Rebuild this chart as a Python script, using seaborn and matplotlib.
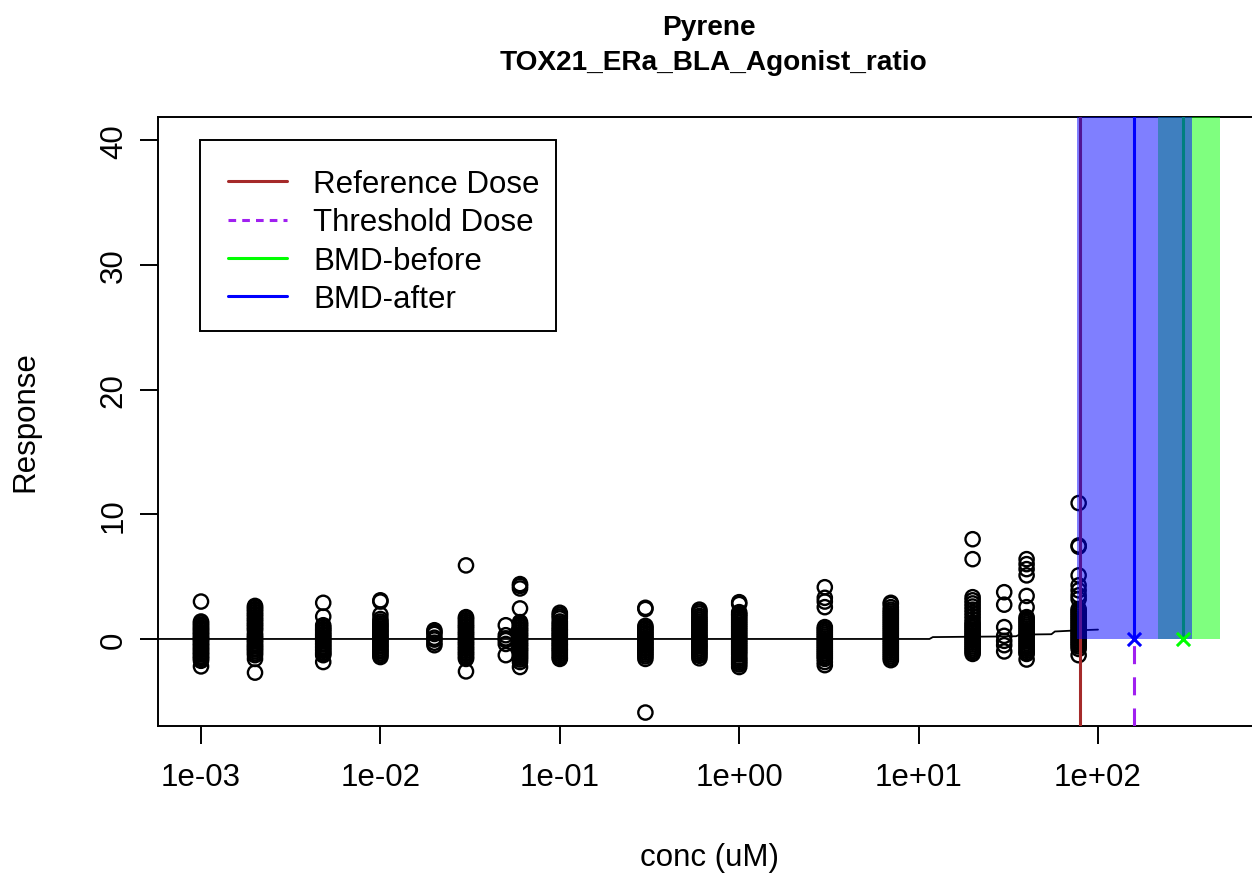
import matplotlib
matplotlib.use("Agg")
import matplotlib.pyplot as plt
import numpy as np
import pandas as pd
import seaborn as sns
from matplotlib.lines import Line2D
from matplotlib.patches import Rectangle

sns.set_theme(style="ticks")
plt.rcParams["font.family"] = ["Liberation Sans", "DejaVu Sans"]
plt.rcParams["text.color"] = "black"
plt.rcParams["axes.labelcolor"] = "black"
plt.rcParams["xtick.color"] = "black"
plt.rcParams["ytick.color"] = "black"

# ---- titles / labels -------------------------------------------------------
chemical = "Pyrene"
assay = "TOX21_ERa_BLA_Agonist_ratio"
x_label = "conc (uM)"
y_label = "Response"

# ---- concentration-response observations (uM, % response) ------------------
conc_levels = [0.001, 0.002, 0.0048, 0.01, 0.02, 0.03, 0.05, 0.06, 0.1,
               0.3, 0.6, 1.0, 3.0, 7.0, 20.0, 30.0, 40.0, 78.0]

resp_c01 = [3.0, 1.4, 1.3, 1.15, 1.05, 0.9, 0.8, 0.7, 0.55, 0.45, 0.35, 0.2,
            0.1, 0.0, -0.1, -0.2, -0.35, -0.45, -0.55, -0.7, -0.8, -0.9,
            -1.05, -1.15, -1.25, -1.4, -1.5, -1.6, -1.75, -2.2]
resp_c02 = [2.65, 2.55, 2.4, 2.3, 2.15, 2.0, 1.9, 1.75, 1.6, 1.5, 1.35, 1.2,
            1.1, 0.95, 0.8, 0.7, 0.45, 0.3, 0.15, 0.05, -0.1, -0.2, -0.35,
            -0.5, -0.6, -0.75, -0.85, -1.0, -1.15, -1.3, -1.6, -2.7]
resp_c03 = [2.9, 1.8, 1.1, 0.95, 0.8, 0.7, 0.55, 0.4, 0.3, 0.15, 0.05, -0.1,
            -0.2, -0.35, -0.45, -0.6, -0.7, -0.85, -0.95, -1.1, -1.2, -1.3,
            -1.85]
resp_c04 = [3.1, 3.0, 1.95, 1.6, 1.4, 1.25, 1.1, 1.0, 0.85, 0.7, 0.6, 0.45,
            0.3, 0.2, 0.05, -0.1, -0.2, -0.35, -0.5, -0.6, -0.75, -0.9, -1.0,
            -1.15, -1.3, -1.45]
resp_c05 = [0.7, 0.55, 0.4, 0.1, -0.05, -0.3, -0.5]
resp_c06 = [5.9, 1.75, 1.65, 1.5, 1.35, 1.2, 1.05, 0.95, 0.8, 0.65, 0.5, 0.4,
            0.25, 0.1, 0.0, -0.15, -0.3, -0.4, -0.55, -0.7, -0.8, -0.95, -1.1,
            -1.2, -1.35, -1.5, -1.6, -2.6]
resp_c07 = [1.1, 0.3, 0.05, -0.1, -0.4, -1.3]
resp_c08 = [4.4, 4.25, 4.05, 2.45, 1.35, 1.2, 1.1, 0.95, 0.8, 0.7, 0.55, 0.4,
            0.3, 0.15, 0.0, -0.1, -0.25, -0.4, -0.5, -0.65, -0.8, -0.9, -1.05,
            -1.2, -1.35, -1.5, -1.65, -1.85, -2.25]
resp_c09 = [2.1, 1.95, 1.8, 1.65, 1.4, 1.25, 1.1, 0.95, 0.8, 0.7, 0.55, 0.4,
            0.3, 0.15, 0.0, -0.1, -0.25, -0.4, -0.5, -0.65, -0.8, -0.9, -1.05,
            -1.2, -1.35, -1.5, -1.6]
resp_c10 = [2.5, 2.4, 1.05, 0.9, 0.8, 0.65, 0.5, 0.4, 0.25, 0.1, 0.0, -0.15,
            -0.3, -0.4, -0.55, -0.7, -0.8, -0.95, -1.1, -1.25, -1.4, -1.6,
            -5.9]
resp_c11 = [2.35, 2.2, 2.05, 1.85, 1.7, 1.55, 1.4, 1.25, 1.1, 0.95, 0.8, 0.65,
            0.5, 0.35, 0.2, 0.1, -0.05, -0.2, -0.35, -0.5, -0.6, -0.75, -0.9,
            -1.05, -1.2, -1.35, -1.55]
resp_c12 = [2.95, 2.8, 2.15, 2.0, 1.9, 1.75, 1.6, 1.45, 1.3, 1.15, 1.0, 0.85,
            0.7, 0.55, 0.4, 0.25, 0.1, -0.05, -0.2, -0.35, -0.5, -0.65, -0.8,
            -0.95, -1.1, -1.25, -1.45, -1.6, -1.75, -1.9, -2.05, -2.25]
resp_c13 = [4.15, 3.3, 3.0, 2.55, 0.95, 0.8, 0.65, 0.5, 0.35, 0.2, 0.05, -0.1,
            -0.25, -0.4, -0.55, -0.7, -0.85, -1.0, -1.15, -1.3, -1.45, -1.6,
            -1.85, -2.1]
resp_c14 = [2.9, 2.8, 2.55, 2.35, 2.2, 2.05, 1.9, 1.75, 1.6, 1.45, 1.3, 1.15,
            1.0, 0.85, 0.7, 0.55, 0.4, 0.25, 0.1, -0.05, -0.2, -0.35, -0.5,
            -0.65, -0.8, -0.95, -1.1, -1.25, -1.4, -1.55, -1.7]
resp_c15 = [8.0, 6.4, 3.35, 3.1, 2.85, 2.6, 2.35, 2.1, 1.85, 1.6, 1.35, 1.2,
            1.05, 0.9, 0.75, 0.6, 0.45, 0.3, 0.15, 0.0, -0.15, -0.3, -0.45,
            -0.6, -0.75, -0.9, -1.05, -1.2]
resp_c16 = [3.75, 2.75, 0.95, 0.25, -0.15, -0.5, -1.0]
resp_c17 = [6.4, 6.0, 5.6, 5.1, 3.45, 2.55, 1.75, 1.6, 1.45, 1.3, 1.15, 1.0,
            0.85, 0.7, 0.55, 0.4, 0.25, 0.1, -0.05, -0.2, -0.35, -0.5, -0.65,
            -0.8, -0.95, -1.1, -1.2, -1.65]
resp_c18 = [10.9, 7.5, 7.4, 5.1, 4.3, 3.9, 3.5, 3.2, 2.4, 2.25, 2.1, 1.95,
            1.8, 1.65, 1.5, 1.35, 1.2, 1.05, 0.9, 0.75, 0.6, 0.45, 0.3, 0.15,
            0.0, -0.15, -0.3, -0.45, -0.6, -0.8, -1.3]

responses = [resp_c01, resp_c02, resp_c03, resp_c04, resp_c05, resp_c06,
             resp_c07, resp_c08, resp_c09, resp_c10, resp_c11, resp_c12,
             resp_c13, resp_c14, resp_c15, resp_c16, resp_c17, resp_c18]

# ---- fitted curve ------------------------------------------------------------
curve_conc = [0.0004, 11.5, 12.0, 20.0, 30.0, 35.0, 36.5, 55.0, 57.5, 80.0, 100.0]
curve_resp = [0.0, 0.0, 0.15, 0.18, 0.2, 0.22, 0.35, 0.38, 0.6, 0.7, 0.75]

# ---- point of departure estimates (uM) --------------------------------------
reference_dose = 79.0
threshold_dose = 159.0
bmd_before, bmdl_before, bmdu_before = 298.0, 216.0, 479.0
bmd_after, bmdl_after, bmdu_after = 159.0, 76.4, 334.0

# ---- axes ticks -------------------------------------------------------------
x_ticks = [1e-3, 1e-2, 1e-1, 1e0, 1e1, 1e2]
x_tick_labels = ["1e-03", "1e-02", "1e-01", "1e+00", "1e+01", "1e+02"]
y_ticks = [0, 10, 20, 30, 40]
y_tick_labels = ["0", "10", "20", "30", "40"]

legend_labels = ["Reference Dose", "Threshold Dose", "BMD-before", "BMD-after"]

# colours
c_ref = "#A52A2A"
c_thr = "#A020F0"
c_before = "#00FF00"
c_after = "#0000FF"

df = pd.DataFrame({
    "conc": np.concatenate([[c] * len(r) for c, r in zip(conc_levels, responses)]),
    "resp": np.concatenate(responses),
})

W, H = 1252, 879
fig = plt.figure(figsize=(W / 100, H / 100), dpi=100)
ax_l, ax_r, ax_t, ax_b = 158, 1260, 118, 727
ax = fig.add_axes([ax_l / W, 1 - ax_b / H, (ax_r - ax_l) / W, (ax_b - ax_t) / H])
ax.set_xscale("log")

y_lo, y_hi = -6.98, 41.86

# observations
sns.scatterplot(data=df, x="conc", y="resp", ax=ax, marker="o", s=105,
                facecolors="none", edgecolor="black", linewidth=1.7,
                legend=False, zorder=3)

# fitted curve
sns.lineplot(x=curve_conc, y=curve_resp, ax=ax, color="black", lw=1.3,
             estimator=None, sort=False, zorder=4)

top = 60
# BMD (before) interval and estimate
ax.fill_between([bmdl_before, bmdu_before], 0, top, color=c_before,
                alpha=0.5, lw=0, zorder=5)
ax.vlines(bmd_before, 0, top, color=c_before, lw=2.2, zorder=5)
# reference and threshold doses
ax.axvline(reference_dose, color=c_ref, lw=2.2, zorder=5)
ax.vlines(threshold_dose, y_lo, 0, color=c_thr, lw=2.2,
          linestyles=(0, (5.9, 4.3)), zorder=5)
# BMD (after) interval and estimate
ax.fill_between([bmdl_after, bmdu_after], 0, top, color=c_after,
                alpha=0.5, lw=0, zorder=6)
ax.vlines(bmd_after, 0, top, color=c_after, lw=2.2, zorder=7)
ax.scatter([bmd_after], [0], marker="x", color=c_after, s=90, lw=2.2, zorder=8)
ax.scatter([bmd_before], [0], marker="x", color=c_before, s=90, lw=2.2, zorder=8)

ax.set_xlim(10 ** -3.2397, 10 ** 2.903)
ax.set_ylim(y_lo, y_hi)
ax.set_xticks(x_ticks)
ax.set_xticklabels(x_tick_labels)
ax.minorticks_off()
ax.set_yticks(y_ticks)
ax.set_yticklabels(y_tick_labels, rotation=90, va="center")
ax.set_xlabel("")
ax.set_ylabel("")
ax.tick_params(axis="both", direction="out", length=13, width=1.4,
               colors="black", labelsize=22.5, left=True, bottom=True)
ax.tick_params(axis="x", pad=13)
ax.tick_params(axis="y", pad=8)
for sp in ax.spines.values():
    sp.set_linewidth(1.4)
    sp.set_color("black")

# legend box
def to_axes(px, py):
    return (px - ax_l) / (ax_r - ax_l), (ax_b - py) / (ax_b - ax_t)

bx0, by0 = to_axes(200, 332)
bx1, by1 = to_axes(556, 141)
ax.add_patch(Rectangle((bx0, by0), bx1 - bx0, by1 - by0, transform=ax.transAxes,
                       facecolor="white", edgecolor="black", lw=1.4,
                       zorder=9))

handles = [Line2D([], [], color=c_ref, lw=2.2),
           Line2D([], [], color=c_thr, lw=2.2, ls=(0, (2.5, 2))),
           Line2D([], [], color=c_before, lw=2.2),
           Line2D([], [], color=c_after, lw=2.2)]
leg = ax.legend(handles, legend_labels, loc="upper left",
                bbox_to_anchor=to_axes(228, 170), frameon=False,
                fontsize=22.5, handlelength=1.89, handletextpad=0.83,
                borderpad=0, labelspacing=0.27, borderaxespad=0)
leg.set_zorder(10)

fig.text(709 / W, 1 - 28 / H, chemical, ha="center", va="center",
         fontsize=20.2, fontweight="bold")
fig.text(713 / W, 1 - 63 / H, assay, ha="center", va="center",
         fontsize=20.2, fontweight="bold")
fig.text(710 / W, 1 - 858 / H, x_label, ha="center", va="center",
         fontsize=22.5)
fig.text(25 / W, 1 - 422 / H, y_label, ha="center", va="center",
         fontsize=22.5, rotation=90)

fig.savefig("out.png", dpi=100)
